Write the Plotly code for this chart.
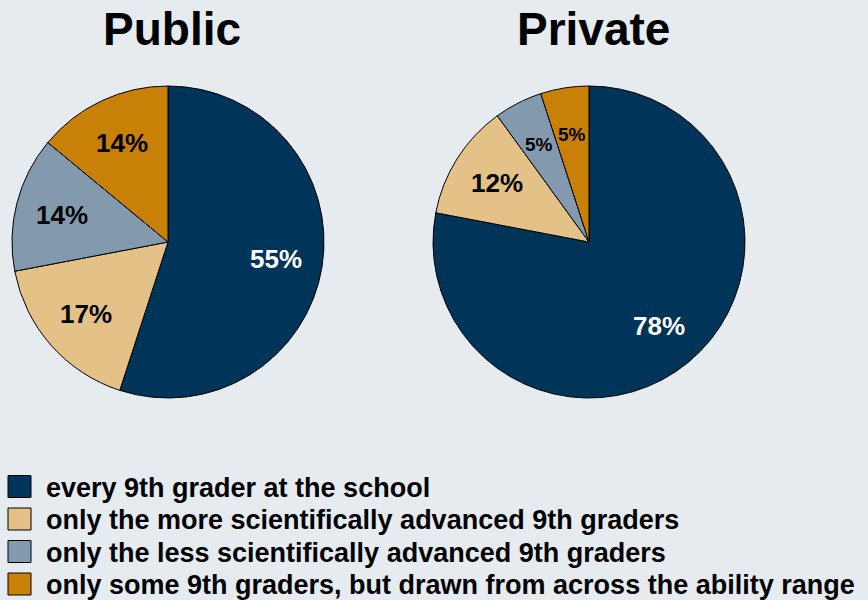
import math
import plotly.graph_objects as go

# Survey shares: which 9th graders take the course, by school type
categories = [
    "every 9th grader at the school",
    "only the more scientifically advanced 9th graders",
    "only the less scientifically advanced 9th graders",
    "only some 9th graders, but drawn from across the ability range",
]
public_values = [55, 17, 14, 14]
private_values = [78, 12, 5, 5]
panel_titles = ["Public", "Private"]

colors = ["#003459", "#e4c186", "#839aae", "#c88006"]
label_colors = ["white", "black", "black", "black"]
bg = "#e6ebf0"

W, H = 868, 600
FONT = "Liberation Sans, Arial, sans-serif"

# pixel geometry of each pie: centre x, centre y, radius
pies = [(168, 242, 156), (589, 242, 156)]

fig = go.Figure()
annotations = []

for (cx, cy, r), vals, title in zip(pies, [public_values, private_values], panel_titles):
    fig.add_trace(go.Pie(
        labels=categories,
        values=vals,
        sort=False,
        direction="clockwise",
        rotation=0,
        textinfo="none",
        hoverinfo="label+percent",
        marker=dict(colors=colors, line=dict(color="black", width=1)),
        domain=dict(x=[(cx - r) / W, (cx + r) / W],
                    y=[1 - (cy + r) / H, 1 - (cy - r) / H]),
        showlegend=False,
    ))
    # percentage labels placed along each slice's bisector
    total = sum(vals)
    cum = 0
    for v, lc in zip(vals, label_colors):
        mid = (cum + v / 2) / total * 2 * math.pi
        cum += v
        px = cx + 0.70 * r * math.sin(mid)
        py = cy - 0.70 * r * math.cos(mid)
        size = 26 if v >= 10 else 19
        annotations.append(dict(
            x=px / W, y=1 - py / H, xref="paper", yref="paper",
            text=f"<b>{v}%</b>", showarrow=False,
            font=dict(family=FONT, size=size, color=lc),
            xanchor="center", yanchor="middle",
        ))
    annotations.append(dict(
        x=(cx + 4) / W, y=1 - 29 / H, xref="paper", yref="paper",
        text=f"<b>{title}</b>", showarrow=False,
        font=dict(family=FONT, size=46, color="black"),
        xanchor="center", yanchor="middle",
    ))

# legend drawn as a key of squares with labels underneath the pies
shapes = []
row0, step = 486.5, 32.5
for i, (cat, col) in enumerate(zip(categories, colors)):
    yc = row0 + i * step
    shapes.append(dict(
        type="rect", xref="paper", yref="paper",
        x0=8 / W, x1=31 / W, y0=1 - (yc + 11) / H, y1=1 - (yc - 11) / H,
        fillcolor=col, line=dict(color="black", width=1),
    ))
    annotations.append(dict(
        x=44 / W, y=1 - (yc + 1) / H, xref="paper", yref="paper",
        text=f"<b>{cat}</b>", showarrow=False,
        font=dict(family=FONT, size=27, color="black"),
        xanchor="left", yanchor="middle",
    ))

fig.update_layout(
    width=W, height=H,
    margin=dict(l=0, r=0, t=0, b=0),
    paper_bgcolor=bg, plot_bgcolor=bg,
    annotations=annotations,
    shapes=shapes,
)

fig.write_html("out.html")
